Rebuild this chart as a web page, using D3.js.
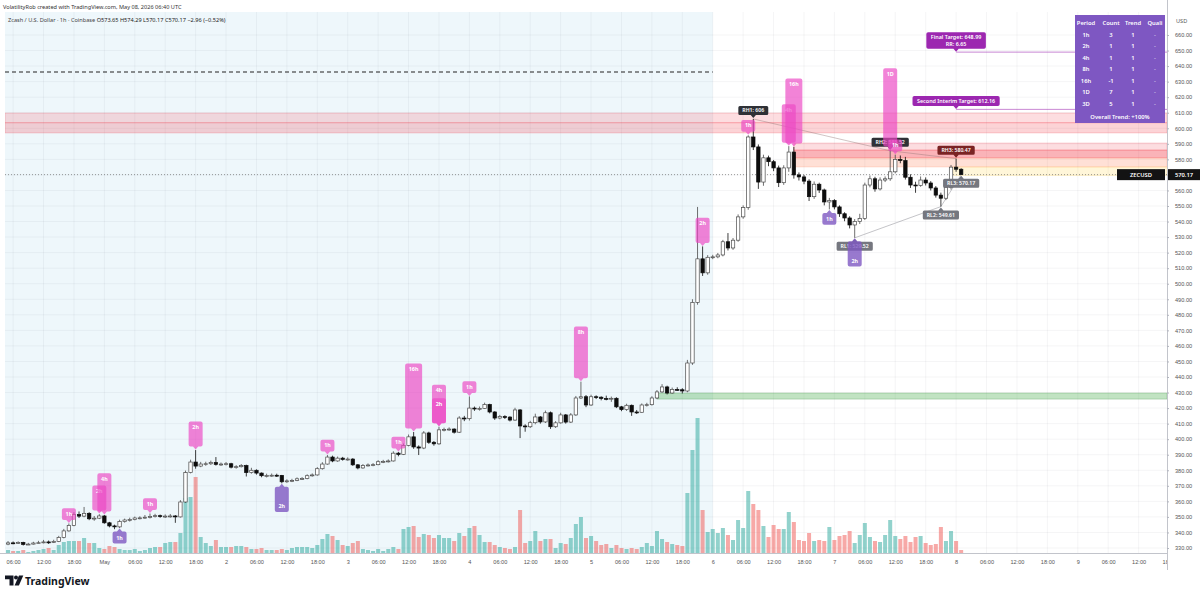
<!DOCTYPE html>
<html><head><meta charset="utf-8"><title>ZECUSD 1h</title>
<script src="https://cdn.jsdelivr.net/npm/d3@7/dist/d3.min.js"></script>
<style>
html,body{margin:0;padding:0;background:#fff;overflow:hidden}
svg{display:block;font-family:"Noto Sans","Liberation Sans","DejaVu Sans",sans-serif}
</style></head><body>
<svg id="chart" width="1200" height="596"></svg>
<script>
// ---------------- DATA ----------------
const headerLine = "VolatilityRob created with TradingView.com, May 08, 2026 06:40 UTC";
const symbolLine = "Zcash / U.S. Dollar · 1h · Coinbase";
const ohlcText = "O573.65 H574.29 L570.17 C570.17 −2.96 (−0.52%)";

const firstOpen = 332.5;
const closes = [
 333.3,333.0,333.6,332.3,332.5,333.2,333.4,333.9,333.6,334.2,
 336.8,341.0,344.5,351.5,350.5,352.3,348.8,349.2,350.6,346.2,
 344.2,343.6,347.0,348.0,348.3,349.3,349.4,349.8,350.2,350.8,
 350.2,350.5,350.6,350.0,359.6,378.5,385.3,382.7,384.0,384.2,
 385.0,383.8,384.0,384.2,382.0,382.3,383.0,378.5,380.0,378.2,
 376.5,376.6,376.8,376.7,372.6,373.2,373.5,374.5,374.7,376.5,
 377.0,381.0,384.0,388.5,386.0,387.8,387.0,387.2,383.5,381.5,
 383.0,383.4,383.6,385.5,385.7,386.0,391.0,390.2,396.0,401.5,
 395.0,394.3,404.0,398.0,397.0,406.0,406.3,406.5,404.5,413.6,
 413.2,420.0,419.5,419.8,422.3,417.5,413.6,414.5,414.2,412.3,
 418.8,408.5,408.0,410.6,414.3,411.1,417.0,408.0,410.5,415.6,
 411.0,415.6,426.5,427.3,422.0,427.3,427.0,426.2,425.8,426.3,
 420.8,419.0,421.8,417.5,417.3,422.0,422.2,426.5,430.4,433.6,
 429.7,432.0,431.8,431.0,449.0,488.0,516.0,507.0,517.0,517.3,
 518.5,527.0,523.0,528.0,543.0,549.0,594.4,588.0,565.4,581.0,
 578.5,574.5,565.0,574.5,584.7,570.0,568.7,566.0,556.0,564.0,
 560.3,552.6,553.5,549.4,545.0,542.3,537.8,540.0,542.0,563.5,
 567.5,561.0,566.7,567.5,572.0,580.0,579.2,568.5,563.5,563.2,
 566.7,564.8,561.6,557.0,555.0,562.0,575.0,573.65,570.17
];
const highs = [
 334.5,334.2,334.3,334.0,333.3,334.0,334.6,335.2,334.8,335.3,
 337.8,342.3,345.8,353.0,353.5,356.4,353.0,350.6,351.8,351.2,
 346.8,345.0,348.2,348.9,349.5,350.2,350.4,351.2,352.2,352.0,
 351.5,351.6,351.9,351.2,360.8,379.8,386.8,393.0,385.4,385.5,
 386.2,388.5,385.0,385.3,384.8,383.3,384.0,383.6,381.6,380.6,
 378.6,377.8,377.9,377.8,377.0,374.2,374.5,375.4,375.6,377.4,
 378.0,382.0,385.2,389.8,389.4,388.8,388.6,388.3,387.8,384.0,
 384.0,384.4,384.6,386.5,386.7,387.0,392.2,391.8,397.2,403.0,
 404.6,396.0,405.2,404.8,398.8,408.0,407.4,407.6,407.0,414.8,
 415.0,427.5,421.0,421.0,423.5,422.8,418.0,415.6,415.4,414.8,
 420.2,419.4,409.6,411.8,416.4,414.9,418.4,417.8,411.6,417.0,
 416.2,416.8,427.8,437.0,428.4,428.6,428.2,427.6,428.0,427.4,
 427.0,421.4,422.8,422.3,418.8,423.0,423.4,427.6,431.6,435.4,
 434.4,433.2,433.4,432.8,451.0,490.0,549.4,524.0,518.4,518.6,
 519.8,528.2,532.6,529.4,544.6,550.4,595.5,606.0,589.6,583.0,
 582.4,579.6,576.0,576.2,588.5,588.0,571.6,570.0,567.2,565.8,
 565.0,561.2,555.2,554.4,550.4,546.0,543.4,541.6,545.0,565.0,
 569.6,568.8,568.4,569.0,586.0,583.0,582.5,581.6,570.4,565.6,
 569.0,568.4,566.0,562.8,558.6,563.4,576.4,580.47,574.29
];
const lows = [
 331.8,332.4,332.6,331.6,331.9,332.2,332.8,333.0,332.6,333.2,
 333.8,336.2,340.5,344.0,349.3,349.8,347.9,347.5,348.6,345.6,
 343.3,342.1,342.8,346.3,347.0,347.8,348.4,348.8,349.0,349.6,
 349.4,349.3,349.5,346.2,349.6,359.0,378.0,381.0,382.0,382.9,
 383.4,383.0,382.8,383.1,381.2,381.0,381.8,376.0,377.8,377.2,
 375.5,375.4,375.8,375.7,371.6,371.9,372.4,373.0,373.8,374.2,
 375.9,376.5,380.4,383.6,385.2,385.5,386.2,386.2,382.8,380.6,
 381.0,382.4,382.6,383.2,384.6,385.0,385.6,389.0,389.8,395.4,
 393.8,389.8,393.6,397.0,395.8,396.4,405.0,405.4,403.6,404.0,
 411.6,412.0,418.2,418.4,419.4,416.6,412.4,412.8,413.0,411.4,
 411.8,400.7,404.8,407.2,409.6,410.0,410.4,406.6,407.2,410.0,
 410.0,410.4,415.0,425.8,420.6,421.4,425.8,425.0,425.0,424.0,
 420.0,418.0,418.2,415.0,416.2,417.0,421.0,421.6,425.8,429.8,
 428.8,429.2,431.0,429.4,430.2,447.8,486.5,505.0,505.8,515.8,
 516.4,517.6,521.4,521.8,527.0,541.8,547.6,586.0,561.0,563.0,
 575.6,572.4,562.2,563.6,572.0,567.6,566.4,564.0,553.2,554.6,
 558.4,550.4,547.8,547.8,543.0,540.2,535.6,529.5,538.4,541.0,
 562.0,559.2,560.0,565.4,566.2,571.0,577.5,567.0,561.6,558.5,
 562.4,563.2,560.0,555.4,549.61,553.8,560.6,572.0,570.17
];
const volumes = [
 3,2,2,3,1,2,3,4,5,3,
 8,11,12,12,12,15,10,10,5,4,
 7,6,4,3,3,4,2,3,5,6,
 6,10,11,11,20,55,56,76,16,10,
 7,13,6,6,6,7,7,6,4,4,
 5,3,3,3,4,3,5,6,6,6,
 5,8,14,19,17,13,8,7,10,12,
 4,3,2,4,2,4,6,4,24,26,
 27,16,19,18,15,18,15,15,12,20,
 17,25,27,18,11,11,8,6,5,4,
 6,43,10,12,22,12,14,14,5,10,
 9,15,29,36,15,17,12,8,9,5,
 8,5,4,5,4,6,10,7,22,14,
 11,9,8,7,60,103,135,43,21,24,
 20,25,18,13,33,25,62,49,43,27,
 16,28,24,24,41,31,13,12,20,12,
 13,12,26,13,17,18,22,10,18,30,
 16,12,11,18,33,17,14,17,11,16,
 17,10,8,9,26,12,22,12,3
];
// x tick labels, one every 6 bars starting at bar 1 (Apr 30 06:00)
const xTickLabels = ["06:00","12:00","18:00","May","06:00","12:00","18:00","2","06:00","12:00","18:00","3",
 "06:00","12:00","18:00","4","06:00","12:00","18:00","5","06:00","12:00","18:00","6",
 "06:00","12:00","18:00","7","06:00","12:00","18:00","8","06:00","12:00","18:00","9",
 "06:00","12:00","18:00"];
const priceTicks = [330,340,350,360,370,380,390,400,410,420,430,440,450,460,470,480,490,500,
 510,520,530,540,550,560,570,580,590,600,610,620,630,640,650,660];

// signal labels: [bar, timeframe, side]
const signals = [
 [12,"1h","bull"],[18,"2h","bull"],[19,"4h","bull"],[28,"1h","bull"],[37,"2h","bull"],
 [63,"1h","bull"],[77,"1h","bull"],[80,"16h","bull"],[85,"4h","bull"],[85,"2h","bull"],
 [91,"1h","bull"],[113,"8h","bull"],[137,"2h","bull"],[146,"1h","bull"],[154,"4h","bull"],
 [155,"16h","bull"],[174,"1D","bull"],[175,"1h","bull"],
 [22,"1h","bear"],[54,"2h","bear"],[162,"1h","bear"],[167,"2h","bear"]
];
// pivot labels: [text, bar, price, kind]
const pivots = [
 ["RH1: 606",147,606,"rh"],["RH2: 585.52",174,585.52,"rh"],["RH3: 580.47",187,580.47,"rh3"],
 ["RL1: 529.52",167,529.52,"rl"],["RL2: 549.61",184,549.61,"rl"],["RL3: 570.17",188,570.17,"rl"]
];
// zones: [fromBar, low, high, tone]
const zones = [
 [-0.6,603.5,609.8,"red1"],[-0.6,597.0,603.5,"red2"],
 [155,586.0,590.5,"red1"],[155,580.9,586.0,"red3"],[155,575.1,580.9,"orange"],
 [187,569.6,575.1,"yellow"],[128,425.8,429.7,"green"]
];
const dashedLevel = 636.2;
const sessionEndBar = 139;
// targets: [line1, line2, price, fromBar]
const targets = [["Final Target: 648.99","RR: 6.65",648.99,187],["Second Interim Target: 612.16",null,612.16,187]];
const lastPrice = 570.17;
const tableHeader = ["Period","Count","Trend","Quali"];
const tablePeriods = ["1h","2h","4h","8h","16h","1D","3D"];
const tableCounts = ["3","1","1","1","-1","7","5"];
const tableTrends = ["1","1","1","1","1","1","1"];
const tableQuality = ["-","-","-","-","-","-","-"];
const overallTrend = "Overall Trend: +100%";

// ---------------- DRAWING ----------------
const svg = d3.select("#chart");
const P = {l:5, r:1167, t:12, b:553};
const x = d3.scaleLinear().domain([-0.6, 228.6]).range([P.l, P.r]);
const y = d3.scaleLinear().domain([330, 660]).range([548, 35]);
const opens = closes.map((c,i)=> i===0 ? firstOpen : closes[i-1]);
const tickBars = xTickLabels.map((_,k)=> 1 + 6*k);

svg.append("rect").attr("width",1200).attr("height",596).attr("fill","#fff");
const defs = svg.append("defs");
defs.append("clipPath").attr("id","plotclip").append("rect")
  .attr("x",P.l).attr("y",P.t).attr("width",P.r-P.l).attr("height",P.b-P.t);
defs.append("clipPath").attr("id","xaxclip").append("rect")
  .attr("x",0).attr("y",P.b).attr("width",P.r).attr("height",40);

const plot = svg.append("g").attr("clip-path","url(#plotclip)");
// session highlight
plot.append("rect").attr("x",x(-0.6)).attr("y",P.t).attr("width",x(sessionEndBar)-x(-0.6))
  .attr("height",P.b-P.t).attr("fill","#eef7fb");
// grid
plot.append("g").selectAll("line").data(tickBars).join("line")
  .attr("x1",d=>x(d)).attr("x2",d=>x(d)).attr("y1",P.t).attr("y2",P.b)
  .attr("stroke","#2a2e39").attr("stroke-opacity",0.07).attr("stroke-width",0.7);
plot.append("g").selectAll("line").data(priceTicks).join("line")
  .attr("x1",P.l).attr("x2",P.r).attr("y1",d=>y(d)).attr("y2",d=>y(d))
  .attr("stroke","#2a2e39").attr("stroke-opacity",0.07).attr("stroke-width",0.7);

// zones
const toneFill = {red1:"rgba(242,54,69,0.17)", red2:"rgba(242,54,69,0.22)", red3:"rgba(242,54,69,0.38)",
  orange:"rgba(255,112,67,0.22)", yellow:"rgba(255,214,80,0.22)", green:"rgba(76,175,80,0.35)"};
const toneStroke = {red1:"rgba(242,54,69,0.35)", red2:"rgba(242,54,69,0.35)", red3:"rgba(242,54,69,0.35)",
  orange:"rgba(255,112,67,0.3)", yellow:"rgba(255,200,60,0.3)", green:"rgba(56,142,60,0.45)"};
zones.forEach(([from,lo,hi,tone])=>{
  const x0 = tone==="yellow" ? x(from)-2.5 : x(from);
  plot.append("rect").attr("x",x0).attr("y",y(hi)).attr("width",P.r-x0).attr("height",y(lo)-y(hi))
    .attr("fill",toneFill[tone]).attr("stroke",toneStroke[tone]).attr("stroke-width",0.6);
});

// dashed level
plot.append("line").attr("x1",x(-0.6)).attr("x2",x(sessionEndBar)).attr("y1",y(dashedLevel)).attr("y2",y(dashedLevel))
  .attr("stroke","#222").attr("stroke-width",1.1).attr("stroke-dasharray","4,3");
// target lines
targets.forEach(t=>{
  plot.append("line").attr("x1",x(t[3])).attr("x2",P.r).attr("y1",y(t[2])).attr("y2",y(t[2]))
    .attr("stroke","#9c27b0").attr("stroke-opacity",0.7).attr("stroke-width",0.8);
});
// last price line
plot.append("line").attr("x1",P.l).attr("x2",P.r).attr("y1",y(lastPrice)).attr("y2",y(lastPrice))
  .attr("stroke","#555").attr("stroke-width",0.6).attr("stroke-dasharray","1,2");

// volume
const vy = d3.scaleLinear().domain([0, d3.max(volumes)]).range([P.b, 418]);
plot.append("g").selectAll("rect").data(volumes).join("rect")
  .attr("x",(d,i)=>x(i)-2).attr("width",4)
  .attr("y",d=>vy(d)).attr("height",d=>P.b-vy(d))
  .attr("fill",(d,i)=> closes[i]>=opens[i] ? "rgba(38,166,154,0.5)" : "rgba(239,83,80,0.5)");

// pivot trend lines
const rhPts = pivots.filter(p=>p[3]!=="rl").map(p=>[x(p[1]),y(p[2])]);
const rlPts = pivots.filter(p=>p[3]==="rl").map(p=>[x(p[1]),y(p[2])]);
plot.append("path").attr("d",d3.line()(rhPts)).attr("fill","none").attr("stroke","rgba(150,120,120,0.55)").attr("stroke-width",0.8);
plot.append("path").attr("d",d3.line()(rlPts)).attr("fill","none").attr("stroke","rgba(130,130,140,0.6)").attr("stroke-width",0.8);

// callout path helper
function callout(x0,y0,w,h,r,tx,ty,side){
  const x1=x0+w, y1=y0+h, a=2.6;
  if(side==="bottom"){
    return `M${x0+r},${y0}H${x1-r}Q${x1},${y0} ${x1},${y0+r}V${y1-r}Q${x1},${y1} ${x1-r},${y1}`+
      `H${tx+a}L${tx},${ty}L${tx-a},${y1}H${x0+r}Q${x0},${y1} ${x0},${y1-r}V${y0+r}Q${x0},${y0} ${x0+r},${y0}Z`;
  }
  return `M${x0+r},${y0}H${tx-a}L${tx},${ty}L${tx+a},${y0}H${x1-r}Q${x1},${y0} ${x1},${y0+r}V${y1-r}Q${x1},${y1} ${x1-r},${y1}`+
    `H${x0+r}Q${x0},${y1} ${x0},${y1-r}V${y0+r}Q${x0},${y0} ${x0+r},${y0}Z`;
}
function textWidth(str, fs, fw){
  const t = svg.append("text").attr("font-size",fs).attr("font-weight",fw).text(str);
  const w = t.node().getComputedTextLength(); t.remove(); return w;
}

const lab = svg.append("g").attr("clip-path","url(#plotclip)");
// pivot labels
const pivotFill = {rh:"#2f3136", rh3:"#7a2424", rl:"#75777f"};
pivots.forEach(([txt,i,v,kind])=>{
  const cx = x(i), fs=5.2, h=9;
  const w = textWidth(txt,fs,600)+8;
  if(kind==="rl"){
    const tip = y(v)+1, top = tip+3;
    lab.append("path").attr("d",callout(cx-w/2,top,w,h,1.5,cx,tip,"top")).attr("fill",pivotFill[kind]);
    lab.append("text").attr("x",cx).attr("y",top+6.3).attr("text-anchor","middle").attr("font-size",fs)
      .attr("font-weight",600).attr("fill","#fff").text(txt);
  } else {
    const tip = y(v)-1, top = tip-3-h;
    lab.append("path").attr("d",callout(cx-w/2,top,w,h,1.5,cx,tip,"bottom")).attr("fill",pivotFill[kind]);
    lab.append("text").attr("x",cx).attr("y",top+6.3).attr("text-anchor","middle").attr("font-size",fs)
      .attr("font-weight",600).attr("fill","#fff").text(txt);
  }
});

// signal labels
const tfRank = {"1h":1,"2h":2,"4h":3,"8h":4,"16h":5,"1D":6};
signals.forEach(([i,tf,side])=>{
  const cx = x(i);
  const h = tfRank[tf]*13.3-1.5;
  const w = tf.length>2 ? 17 : 14;
  if(side==="bull"){
    const tip = y(highs[i])-0.5, top = tip-3-h;
    lab.append("path").attr("d",callout(cx-w/2,top,w,h,2,cx,tip,"bottom"))
      .attr("fill","rgb(236,72,196)").attr("fill-opacity",0.68);
    lab.append("text").attr("x",cx).attr("y",top+7.4).attr("text-anchor","middle").attr("font-size",5.4)
      .attr("font-weight",700).attr("fill","#fff").text(tf);
  } else {
    const tip = y(lows[i])+0.5, top = tip+3;
    lab.append("path").attr("d",callout(cx-w/2,top,w,h,2,cx,tip,"top"))
      .attr("fill","rgb(126,87,194)").attr("fill-opacity",0.8);
    lab.append("text").attr("x",cx).attr("y",top+h-3.6).attr("text-anchor","middle").attr("font-size",5.4)
      .attr("font-weight",700).attr("fill","#fff").text(tf);
  }
});

// candles
const cg = plot.append("g");
closes.forEach((c,i)=>{
  const o = opens[i], up = c>=o, cx = x(i);
  const col = up ? "#4a4a4a" : "#0d0d0d";
  cg.append("line").attr("x1",cx).attr("x2",cx).attr("y1",y(highs[i])).attr("y2",y(lows[i]))
    .attr("stroke",col).attr("stroke-width",0.8);
  const yt = y(Math.max(o,c)), hb = Math.max(0.9, Math.abs(y(o)-y(c)));
  cg.append("rect").attr("x",cx-1.7).attr("width",3.4).attr("y",yt).attr("height",hb)
    .attr("fill",up?"#fff":"#0d0d0d").attr("stroke",col).attr("stroke-width",0.7);
});

// target labels
targets.forEach(([l1,l2,v,from])=>{
  const cx = x(from), fs = 5.4;
  const lines = l2 ? [l1,l2] : [l1];
  const w = d3.max(lines,s=>textWidth(s,fs,600))+9;
  const h = lines.length*6.6+3.4;
  const tip = y(v)-0.3, top = tip-3-h;
  lab.append("path").attr("d",callout(cx-w/2,top,w,h,1.8,cx,tip,"bottom")).attr("fill","#9c27b0");
  lines.forEach((s,k)=> lab.append("text").attr("x",cx).attr("y",top+7.2+k*6.6).attr("text-anchor","middle")
    .attr("font-size",fs).attr("font-weight",600).attr("fill","#fff").text(s));
});

// table
const tb = svg.append("g");
const tx0 = 1075, ty0 = 15, tw = 90, th = 108;
tb.append("rect").attr("x",tx0).attr("y",ty0).attr("width",tw).attr("height",th).attr("fill","#7e57c2");
const colX = [1086,1111,1133,1155];
tableHeader.forEach((s,k)=> tb.append("text").attr("x",colX[k]).attr("y",25).attr("text-anchor","middle")
  .attr("font-size",5.8).attr("font-weight",600).attr("fill","#fff").text(s));
tablePeriods.forEach((p,r)=>{
  const yy = 36.6 + r*11.5;
  [p, tableCounts[r], tableTrends[r], tableQuality[r]].forEach((s,k)=>
    tb.append("text").attr("x",colX[k]).attr("y",yy).attr("text-anchor","middle").attr("font-size",5.8)
      .attr("font-weight",600).attr("fill","#fff").attr("fill-opacity",k===3?0.6:1).text(s));
});
tb.append("text").attr("x",tx0+tw/2).attr("y",119).attr("text-anchor","middle").attr("font-size",5.8)
  .attr("font-weight",600).attr("fill","#fff").text(overallTrend);

// axes
svg.append("rect").attr("x",P.r).attr("y",0).attr("width",1200-P.r).attr("height",596).attr("fill","#fff");
svg.append("line").attr("x1",P.r+0.5).attr("x2",P.r+0.5).attr("y1",0).attr("y2",570).attr("stroke","#b2b5be").attr("stroke-width",0.8);
svg.append("line").attr("x1",0).attr("x2",P.r).attr("y1",P.b+0.5).attr("y2",P.b+0.5).attr("stroke","#b2b5be").attr("stroke-width",0.8);
const yAxis = svg.append("g").attr("transform",`translate(${P.r},0)`)
  .call(d3.axisRight(y).tickValues(priceTicks).tickFormat(d=>d.toFixed(2)).tickSize(2));
yAxis.select(".domain").remove();
yAxis.selectAll("line").attr("stroke","#b2b5be");
yAxis.selectAll("text").attr("x",8).attr("font-size",5.6).attr("fill","#555").attr("font-family",null);
svg.append("text").attr("x",1176).attr("y",23).attr("font-size",5.6).attr("fill","#555").text("USD");

const xAxis = svg.append("g").attr("clip-path","url(#xaxclip)").append("g").attr("transform",`translate(0,${P.b})`)
  .call(d3.axisBottom(x).tickValues(tickBars).tickFormat((d,k)=>xTickLabels[k]).tickSize(0));
xAxis.select(".domain").remove();
xAxis.selectAll("text").attr("y",7).attr("font-size",5.6).attr("fill","#555").attr("font-family",null);

// last price tags
const lpY = y(lastPrice);
svg.append("rect").attr("x",1117).attr("y",lpY-5.5).attr("width",48).attr("height",11).attr("fill","#131313");
svg.append("text").attr("x",1141).attr("y",lpY+2).attr("text-anchor","middle").attr("font-size",5.8)
  .attr("font-weight",600).attr("fill","#fff").text("ZECUSD");
svg.append("rect").attr("x",1168).attr("y",lpY-5.5).attr("width",32).attr("height",11).attr("fill","#131313");
svg.append("text").attr("x",1184).attr("y",lpY+2).attr("text-anchor","middle").attr("font-size",5.8)
  .attr("font-weight",600).attr("fill","#fff").text(lastPrice.toFixed(2));

// header texts
svg.append("text").attr("x",3).attr("y",8.5).attr("font-size",5.6).attr("fill","#333").text(headerLine);
const hl = svg.append("text").attr("x",8).attr("y",22).attr("font-size",5.6).attr("fill","#444");
hl.append("tspan").text(symbolLine + "  ");
hl.append("tspan").attr("fill","#222").text(ohlcText);

// TradingView logo
const logo = svg.append("g").attr("fill","#131722");
logo.append("path").attr("d","M5,575.5h8.5v10h-4v-6.2h-4.5z");
logo.append("circle").attr("cx",16).attr("cy",577.6).attr("r",2);
logo.append("path").attr("d","M19,575.5h4.3l-4.4,10h-4.3z");
svg.append("text").attr("x",25).attr("y",585).attr("font-size",10.5).attr("font-weight",700)
  .attr("fill","#131722").text("TradingView");
</script>
</body></html>
